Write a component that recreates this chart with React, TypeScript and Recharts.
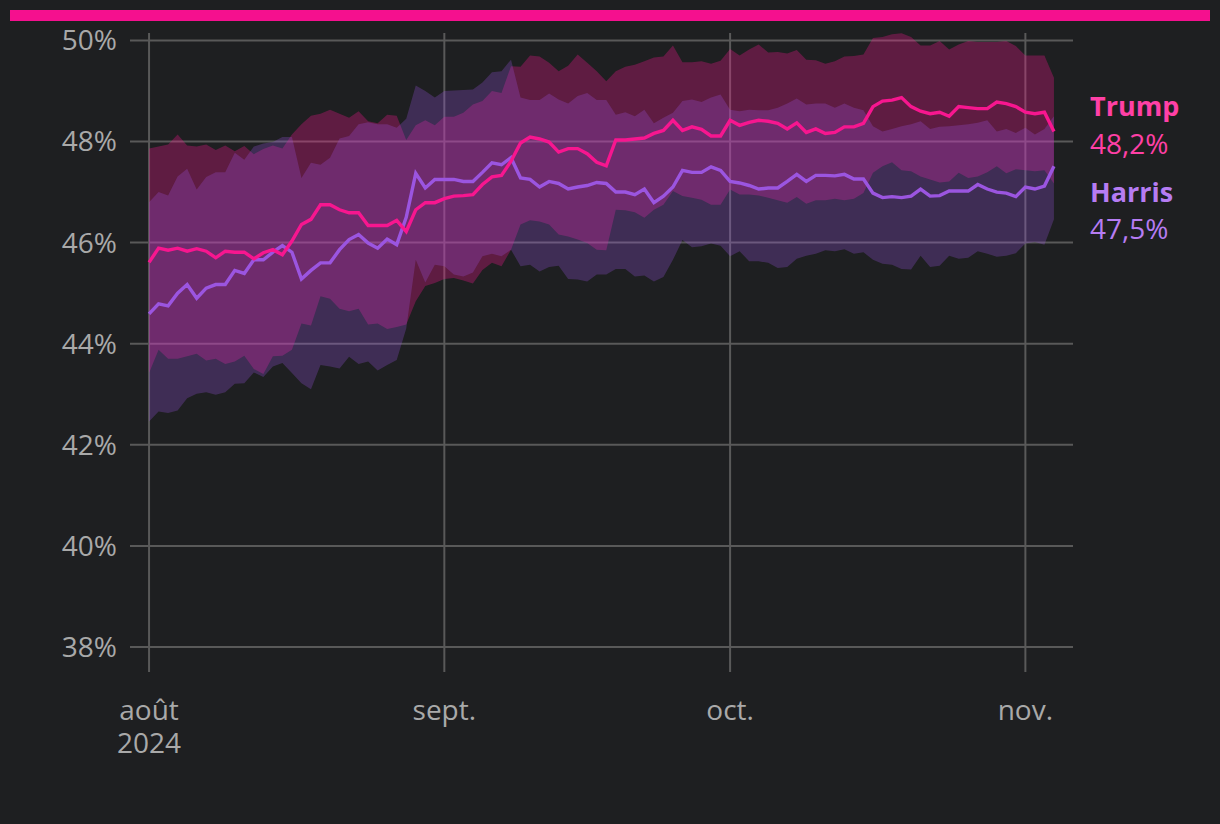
import React from 'react';
import { ComposedChart, Area, Line, XAxis, YAxis, CartesianGrid } from 'recharts';

// one value per day, starting 1 August 2024
const trump = [
  45.61, 45.89, 45.85, 45.89, 45.83, 45.88, 45.83, 45.70, 45.83, 45.81,
  45.81, 45.68, 45.80, 45.86, 45.76, 46.03, 46.36, 46.46, 46.75, 46.75,
  46.65, 46.59, 46.59, 46.34, 46.34, 46.34, 46.44, 46.22, 46.65, 46.79,
  46.79, 46.87, 46.92, 46.93, 46.95, 47.15, 47.30, 47.33, 47.61, 47.97,
  48.09, 48.05, 47.99, 47.79, 47.86, 47.86, 47.76, 47.59, 47.52, 48.03,
  48.03, 48.05, 48.07, 48.16, 48.22, 48.42, 48.22, 48.29, 48.24, 48.11,
  48.11, 48.42, 48.32, 48.38, 48.42, 48.40, 48.36, 48.25, 48.37, 48.18,
  48.25, 48.16, 48.18, 48.29, 48.29, 48.36, 48.69, 48.80, 48.82, 48.87,
  48.69, 48.60, 48.55, 48.58, 48.50, 48.69, 48.67, 48.65, 48.65, 48.78,
  48.75, 48.69, 48.58, 48.55, 48.58, 48.20,
];
const trumpHigh = [
  47.86, 47.90, 47.94, 48.14, 47.92, 47.90, 47.94, 47.83, 47.92, 47.81,
  47.91, 47.75, 47.85, 47.92, 47.86, 48.14, 48.34, 48.51, 48.55, 48.63,
  48.55, 48.47, 48.60, 48.40, 48.36, 48.53, 48.51, 48.03, 48.32, 48.42,
  48.32, 48.49, 48.49, 48.57, 48.73, 48.80, 49.00, 48.96, 49.49, 49.48,
  49.70, 49.68, 49.56, 49.39, 49.50, 49.72, 49.56, 49.39, 49.19, 49.39,
  49.48, 49.52, 49.59, 49.66, 49.68, 49.90, 49.57, 49.57, 49.59, 49.54,
  49.60, 49.83, 49.70, 49.82, 49.92, 49.76, 49.77, 49.74, 49.81, 49.62,
  49.61, 49.54, 49.59, 49.68, 49.69, 49.72, 50.05, 50.07, 50.12, 50.14,
  50.07, 49.90, 49.90, 49.99, 49.82, 49.92, 49.99, 49.97, 49.97, 49.97,
  49.99, 49.89, 49.70, 49.70, 49.70, 49.26,
];
const trumpLow = [
  43.42, 43.88, 43.70, 43.70, 43.75, 43.80, 43.67, 43.70, 43.60, 43.65,
  43.76, 43.50, 43.40, 43.75, 43.76, 43.88, 44.40, 44.36, 44.94, 44.89,
  44.69, 44.64, 44.69, 44.38, 44.40, 44.29, 44.33, 44.38, 44.84, 45.14,
  45.20, 45.28, 45.30, 45.25, 45.19, 45.46, 45.60, 45.53, 45.86, 46.36,
  46.44, 46.42, 46.36, 46.16, 46.12, 46.06, 45.99, 45.86, 45.85, 46.65,
  46.64, 46.60, 46.49, 46.65, 46.75, 47.02, 46.92, 46.89, 46.85, 46.75,
  46.75, 47.05, 46.95, 46.95, 46.93, 46.89, 46.84, 46.79, 46.90, 46.77,
  46.84, 46.84, 46.87, 46.84, 46.87, 46.98, 47.38, 47.51, 47.59, 47.43,
  47.41, 47.31, 47.25, 47.19, 47.21, 47.38, 47.28, 47.31, 47.39, 47.51,
  47.37, 47.45, 47.43, 47.41, 47.43, 47.17,
];
const harris = [
  44.59, 44.79, 44.75, 45.00, 45.17, 44.90, 45.10, 45.17, 45.17, 45.45,
  45.39, 45.66, 45.66, 45.81, 45.94, 45.81, 45.28, 45.45, 45.60, 45.60,
  45.86, 46.06, 46.16, 45.99, 45.89, 46.07, 45.96, 46.50, 47.37, 47.08,
  47.25, 47.25, 47.25, 47.21, 47.21, 47.39, 47.58, 47.54, 47.68, 47.28,
  47.25, 47.10, 47.21, 47.17, 47.06, 47.10, 47.13, 47.19, 47.17, 47.00,
  47.00, 46.95, 47.06, 46.79, 46.92, 47.10, 47.43, 47.39, 47.39, 47.50,
  47.43, 47.21, 47.18, 47.13, 47.06, 47.08, 47.08, 47.21, 47.35, 47.21,
  47.33, 47.33, 47.32, 47.35, 47.26, 47.26, 46.98, 46.89, 46.91, 46.89,
  46.92, 47.06, 46.92, 46.93, 47.02, 47.02, 47.02, 47.15, 47.06, 47.00,
  46.98, 46.91, 47.10, 47.06, 47.12, 47.51,
];
const harrisHigh = [
  46.80, 47.00, 46.93, 47.31, 47.46, 47.05, 47.30, 47.39, 47.39, 47.78,
  47.64, 47.90, 47.96, 47.99, 48.09, 48.09, 47.28, 47.58, 47.54, 47.68,
  48.06, 48.11, 48.34, 48.38, 48.34, 48.34, 48.27, 48.45, 49.11, 49.00,
  48.87, 49.00, 49.01, 49.02, 49.03, 49.17, 49.37, 49.39, 49.62, 48.87,
  48.82, 48.82, 48.95, 48.83, 48.75, 48.90, 48.96, 48.82, 48.82, 48.53,
  48.58, 48.50, 48.63, 48.36, 48.47, 48.57, 48.80, 48.83, 48.78, 48.87,
  48.93, 48.63, 48.60, 48.63, 48.62, 48.62, 48.67, 48.75, 48.85, 48.73,
  48.75, 48.75, 48.67, 48.75, 48.67, 48.62, 48.30, 48.20, 48.25, 48.30,
  48.34, 48.40, 48.25, 48.29, 48.30, 48.32, 48.34, 48.37, 48.42, 48.20,
  48.25, 48.17, 48.27, 48.14, 48.25, 48.50,
];
const harrisLow = [
  42.46, 42.66, 42.63, 42.68, 42.92, 43.01, 43.04, 42.99, 43.04, 43.21,
  43.22, 43.43, 43.34, 43.55, 43.62, 43.42, 43.22, 43.10, 43.58, 43.55,
  43.51, 43.74, 43.60, 43.65, 43.47, 43.58, 43.68, 44.30, 45.66, 45.21,
  45.56, 45.53, 45.37, 45.33, 45.41, 45.73, 45.78, 45.73, 45.86, 45.53,
  45.56, 45.43, 45.52, 45.54, 45.28, 45.27, 45.23, 45.37, 45.37, 45.48,
  45.48, 45.33, 45.35, 45.23, 45.32, 45.66, 46.05, 45.91, 45.93, 45.98,
  45.94, 45.73, 45.83, 45.63, 45.63, 45.60, 45.50, 45.52, 45.68, 45.74,
  45.78, 45.85, 45.83, 45.87, 45.78, 45.81, 45.66, 45.58, 45.56, 45.48,
  45.47, 45.74, 45.52, 45.54, 45.74, 45.68, 45.70, 45.83, 45.78, 45.72,
  45.74, 45.79, 45.98, 46.01, 45.96, 46.46,
];

// days since 1 August
const monthTicks = [0, 31, 61, 92];
const monthLabels = [['août', '2024'], ['sept.'], ['oct.'], ['nov.']];
const yTicks = [38, 40, 42, 44, 46, 48, 50];

const FONT = "'Open Sans', 'Noto Sans', sans-serif";
const BG = '#1e1f21';
const TICK = '#a9a9a9';
const TRUMP = '#f7168f';
const HARRIS = '#9b55e0';

const data = trump.map((value, day) => ({
  day,
  trump: value,
  harris: harris[day],
  trumpBand: [trumpLow[day], trumpHigh[day]],
  harrisBand: [harrisLow[day], harrisHigh[day]],
}));

const pct = (v: number) => `${v.toFixed(1).replace('.', ',')}%`;

function MonthTick({ x, y, payload }: any) {
  const lines = monthLabels[monthTicks.indexOf(payload.value)] ?? [];
  return (
    <text x={x} y={y} textAnchor="middle" fill={TICK} fontSize={28} fontFamily={FONT}>
      {lines.map((line, i) => (
        <tspan key={line} x={x} dy={i === 0 ? 40 : 33}>{line}</tspan>
      ))}
    </text>
  );
}

export default function App() {
  const last = trump.length - 1;
  return (
    <div style={{ position: 'absolute', left: 0, top: 0, width: 1220, height: 824, background: BG, overflow: 'hidden' }}>
      <div style={{ position: 'absolute', left: 10, top: 10, width: 1200, height: 11, background: '#f5108e' }} />
      <ComposedChart
        width={1220}
        height={824}
        data={data}
        margin={{ top: 33, right: 147, left: 50, bottom: 62 }}
      >
        <CartesianGrid
          stroke="#595959"
          strokeWidth={2}
          horizontalValues={yTicks}
          verticalValues={monthTicks}
        />
        <XAxis
          dataKey="day"
          type="number"
          domain={[-2, 97]}
          ticks={monthTicks}
          allowDataOverflow
          height={90}
          axisLine={false}
          tickLine={false}
          tick={<MonthTick />}
          interval={0}
        />
        <YAxis
          type="number"
          domain={[37.505, 50.147]}
          ticks={yTicks}
          allowDataOverflow
          width={80}
          axisLine={false}
          tickLine={false}
          tickSize={6}
          tickMargin={7}
          tickFormatter={(v: number) => `${v}%`}
          tick={{ fill: TICK, fontSize: 28, fontFamily: FONT }}
          interval={0}
        />
        <Area
          type="linear"
          dataKey="trumpBand"
          stroke="none"
          fill={TRUMP}
          fillOpacity={0.3}
          isAnimationActive={false}
        />
        <Area
          type="linear"
          dataKey="harrisBand"
          stroke="none"
          fill={HARRIS}
          fillOpacity={0.27}
          isAnimationActive={false}
        />
        <Line
          type="linear"
          dataKey="harris"
          stroke={HARRIS}
          strokeWidth={3.4}
          dot={false}
          isAnimationActive={false}
        />
        <Line
          type="linear"
          dataKey="trump"
          stroke={TRUMP}
          strokeWidth={3.4}
          dot={false}
          isAnimationActive={false}
        />
      </ComposedChart>
      <svg
        width={140}
        height={260}
        style={{ position: 'absolute', left: 1080, top: 0 }}
        fontFamily={FONT}
        fontSize={28}
      >
        <text x={10} y={116} fill="#ff40a6" fontWeight={700} fontSize={27}>Trump</text>
        <text x={10} y={154} fill="#ff40a6">{pct(trump[last])}</text>
        <text x={10} y={202} fill="#b67cf3" fontWeight={700} fontSize={27}>Harris</text>
        <text x={10} y={239} fill="#b67cf3">{pct(harris[last])}</text>
      </svg>
    </div>
  );
}
